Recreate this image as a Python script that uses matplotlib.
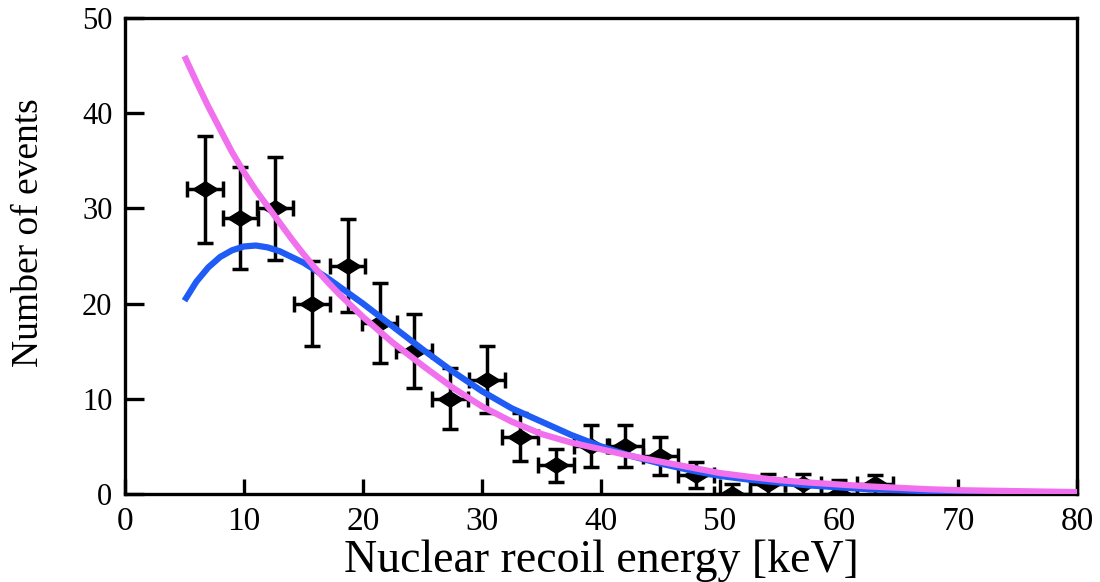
import matplotlib.pyplot as plt
import numpy as np

plt.rcParams['font.family'] = ['Liberation Serif', 'DejaVu Serif']

energy = [6.7, 9.7, 12.6, 15.7, 18.7, 21.4, 24.3, 27.3, 30.4, 33.2,
          36.2, 39.2, 42.0, 45.0, 48.0, 51.0, 54.0, 57.0, 60.0, 63.0]
events = [32, 29, 30, 20, 24, 18, 15, 10, 12, 6,
          3, 5, 5, 4, 2, 0, 1, 1, 0, 1]
events_err = [5.6, 5.4, 5.4, 4.5, 4.9, 4.2, 3.9, 3.2, 3.5, 2.5,
              1.7, 2.2, 2.2, 2.0, 1.4, 1.0, 1.1, 1.1, 1.5, 1.0]
energy_err = [1.5] * len(energy)

# model curves: 1 keV steps up to 20 keV, then 2.5 keV steps
curve_e = [5, 6, 7, 8, 9, 10, 11, 12, 13, 14, 15, 16, 17, 18, 19, 20,
           22.5, 25, 27.5, 30, 32.5, 35, 37.5, 40, 42.5, 45, 47.5, 50, 52.5,
           55, 57.5, 60, 62.5, 65, 67.5, 70, 72.5, 75, 77.5, 80]
blue_curve = [20.3, 22.3, 23.8, 24.9, 25.6, 26.0, 26.1, 25.9, 25.5, 24.9,
              24.3, 23.5, 22.7, 21.8, 20.9, 20.0,
              17.6, 15.2, 12.9, 10.8, 9.0, 7.6, 6.2, 5.0, 4.0, 3.2, 2.5, 1.9,
              1.5, 1.2, 0.9, 0.7, 0.5, 0.4, 0.3, 0.2, 0.15, 0.1, 0.08, 0.05]
pink_curve = [46.0, 43.3, 40.7, 38.3, 35.9, 33.8, 31.9, 30.2, 28.5, 26.8,
              25.2, 23.7, 22.3, 21.0, 19.8, 18.6,
              15.9, 13.5, 11.2, 9.2, 7.6, 6.3, 5.4, 4.7, 4.0, 3.4, 2.8, 2.2,
              1.8, 1.45, 1.2, 1.0, 0.8, 0.65, 0.5, 0.4, 0.35, 0.3, 0.25, 0.2]

fig = plt.figure(figsize=(11, 5.82), dpi=100)
ax = fig.add_axes([0.1136, 0.1512, 0.8655, 0.8179])

diamond = [(-1, 0), (0, 0.62), (1, 0), (0, -0.62), (-1, 0)]
ax.errorbar(energy, events, yerr=events_err, xerr=energy_err, fmt='none',
            ecolor='black', elinewidth=2.5, capsize=5.5, capthick=2.5, zorder=2)
ax.plot(energy, events, linestyle='none', marker=diamond, markersize=18,
        color='black', zorder=3)

ax.plot(curve_e, blue_curve, color='#1f5cf5', lw=4.5, zorder=4,
        solid_capstyle='butt', solid_joinstyle='round')
ax.plot(curve_e, pink_curve, color='#f070ee', lw=4.5, zorder=5,
        solid_capstyle='butt', solid_joinstyle='round')

ax.set_xlim(0, 80)
ax.set_ylim(0, 50)
ax.set_xticks(np.arange(0, 81, 10))
ax.set_yticks(np.arange(0, 51, 10))
ax.tick_params(axis='y', direction='in', length=14, width=2.4, labelsize=22, pad=9,
               right=False)
ax.tick_params(axis='x', direction='in', length=11, width=2.4, labelsize=24, pad=9,
               top=False)
for s in ax.spines.values():
    s.set_linewidth(2.4)

ax.set_xlabel('Nuclear recoil energy [keV]', fontsize=33, labelpad=2)
ax.set_ylabel('Number of events', fontsize=27)
ax.yaxis.set_label_coords(-0.083, 0.55)

plt.savefig('out.png', dpi=100)
